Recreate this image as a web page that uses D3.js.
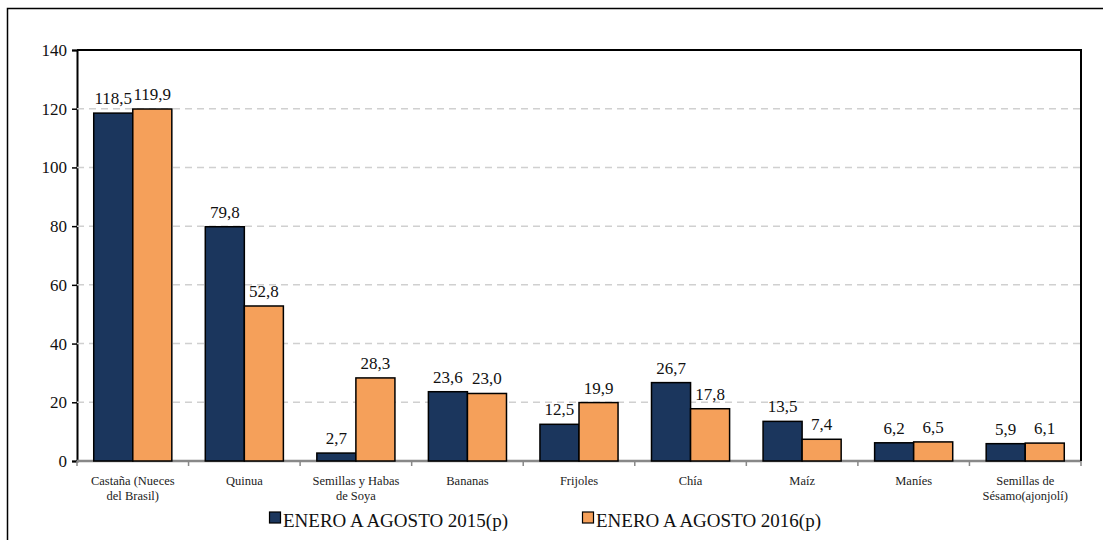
<!DOCTYPE html>
<html>
<head>
<meta charset="utf-8">
<script src="https://cdn.jsdelivr.net/npm/d3@7"></script>
</head>
<body style="margin:0">
<svg width="1103" height="540" font-family="Liberation Serif"></svg>
<script>
// ### Data ###
var categories = [
  ["Castaña (Nueces", "del Brasil)"],
  ["Quinua"],
  ["Semillas y Habas", "de Soya"],
  ["Bananas"],
  ["Frijoles"],
  ["Chía"],
  ["Maíz"],
  ["Maníes"],
  ["Semillas de", "Sésamo(ajonjolí)"]
];
var series2015 = [118.5, 79.8, 2.7, 23.6, 12.5, 26.7, 13.5, 6.2, 5.9];
var series2016 = [119.9, 52.8, 28.3, 23.0, 19.9, 17.8, 7.4, 6.5, 6.1];
var seriesNames = ["ENERO A AGOSTO 2015(p)", "ENERO A AGOSTO 2016(p)"];
var yTicks = [0, 20, 40, 60, 80, 100, 120, 140];
var colors = ["#1b365d", "#f5a05a"];
var FONT = 'Liberation Serif';

// ### Setting up canvas ###
var margin = {top: 50, right: 22, bottom: 79, left: 77};
var width = 1103 - margin.left - margin.right;
var height = 540 - margin.top - margin.bottom;
var svg = d3.select('svg');

var g = svg.append('g').attr('transform', `translate(${margin.left},${margin.top})`);

// ### Scales ###
var xScale = d3.scaleBand()
  .domain(d3.range(categories.length))
  .range([0, width])
  .paddingInner(0.3)
  .paddingOuter(0.15);
var xSub = d3.scaleBand()
  .domain([0, 1])
  .range([0, xScale.bandwidth()]);
var yScale = d3.scaleLinear()
  .domain([0, 140])
  .range([height, 0]);

// ### Legend (drawn first) ###
var legend = svg.append('g').attr('transform', 'translate(269,527)');
var legendX = [0, 313];
seriesNames.forEach((name, i) => {
  var lg = legend.append('g').attr('transform', `translate(${legendX[i]},0)`);
  lg.append('text')
    .attr('x', 14).attr('y', 0)
    .attr('font-family', FONT)
    .attr('font-size', 19)
    .attr('fill', '#111')
    .text(name);
  lg.append('rect')
    .attr('x', 0.5).attr('y', -15)
    .attr('width', 11).attr('height', 11)
    .attr('fill', colors[i]).attr('stroke', '#000').attr('stroke-width', 1.2);
});

// ### Axis ###
var yAxis = d3.axisLeft(yScale).tickValues(yTicks).tickSize(5).tickPadding(5);
var yG = g.append('g').call(yAxis).attr('font-family', FONT);
yG.select('.domain').attr('stroke', '#000').attr('stroke-width', 2);
yG.selectAll('.tick line').attr('stroke', '#000').attr('stroke-width', 1.5);
yG.selectAll('.tick text')
  .attr('font-family', FONT)
  .attr('font-size', 17)
  .attr('fill', '#111');

// x axis line (gray) with ticks between categories
var xG = g.append('g').attr('transform', `translate(0,${height})`);
var labels = xG.selectAll('.xl')
  .data(categories)
  .enter()
  .append('text')
  .attr('text-anchor', 'middle')
  .attr('font-family', FONT)
  .attr('font-size', 12.5)
  .attr('fill', '#222')
  .attr('transform', (d, i) => `translate(${xScale(i) + xScale.bandwidth() / 2},24)`);
labels.selectAll('tspan')
  .data(d => d)
  .enter()
  .append('tspan')
  .attr('x', 0)
  .attr('dy', (d, k) => k === 0 ? 0 : 15)
  .text(d => d);

// ### Grid ###
g.selectAll('.grid')
  .data(yTicks.filter(t => t > 0 && t < 140))
  .enter()
  .append('line')
  .attr('x1', 0).attr('x2', width)
  .attr('y1', d => yScale(d)).attr('y2', d => yScale(d))
  .attr('stroke', '#d0d0d0')
  .attr('stroke-width', 1.5)
  .attr('stroke-dasharray', '7,5');

// plot frame: top and right
g.append('path')
  .attr('d', `M0,0H${width}V${height}`)
  .attr('fill', 'none').attr('stroke', '#000').attr('stroke-width', 2);

// ### Bars ###
var data = categories.map((c, i) => [series2015[i], series2016[i]]);
var groups = g.selectAll('.grp')
  .data(data)
  .enter()
  .append('g')
  .attr('transform', (d, i) => `translate(${xScale(i)},0)`);

groups.selectAll('rect')
  .data(d => d)
  .enter()
  .append('rect')
  .attr('x', (d, j) => xSub(j))
  .attr('y', d => yScale(d))
  .attr('width', xSub.bandwidth())
  .attr('height', d => height - yScale(d))
  .attr('fill', (d, j) => colors[j])
  .attr('stroke', '#000')
  .attr('stroke-width', 1.5);

groups.selectAll('text')
  .data(d => d)
  .enter()
  .append('text')
  .attr('x', (d, j) => xSub(j) + xSub.bandwidth() / 2)
  .attr('y', d => yScale(d) - 9)
  .attr('text-anchor', 'middle')
  .attr('font-family', FONT)
  .attr('font-size', 17)
  .attr('fill', '#111')
  .text(d => d.toFixed(1).replace('.', ','));

xG.append('line')
  .attr('x1', 0).attr('x2', width)
  .attr('stroke', '#888').attr('stroke-width', 2.5);
xG.selectAll('.xt')
  .data(d3.range(categories.length + 1))
  .enter()
  .append('line')
  .attr('x1', d => d * width / categories.length)
  .attr('x2', d => d * width / categories.length)
  .attr('y1', 0).attr('y2', 5)
  .attr('stroke', '#888').attr('stroke-width', 1.5);

// outer frame
svg.append('rect')
  .attr('x', 7.5).attr('y', 8.5)
  .attr('width', 1110).attr('height', 560)
  .attr('fill', 'none').attr('stroke', '#000').attr('stroke-width', 1.5);
</script>
</body>
</html>
